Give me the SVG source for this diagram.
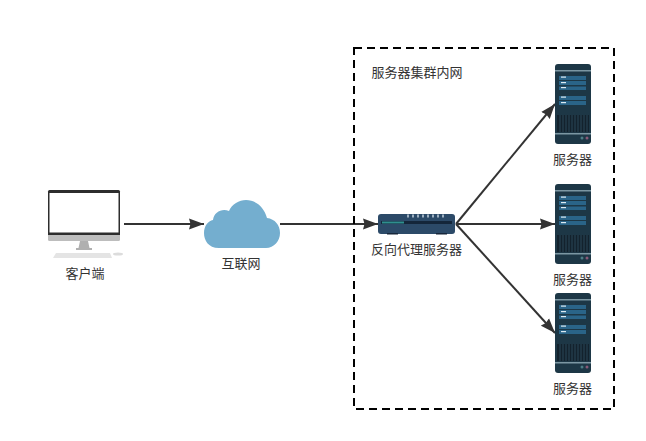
<svg xmlns="http://www.w3.org/2000/svg" xmlns:xlink="http://www.w3.org/1999/xlink" width="646" height="441" viewBox="0 0 646 441">
<style>
text{font-family:"Noto Sans CJK SC","Liberation Sans",sans-serif;font-size:13px;fill:#333;text-anchor:middle}
.c{fill:none;stroke:#333;stroke-width:2}
</style>
<defs>
<marker id="a" markerUnits="userSpaceOnUse" markerWidth="16" markerHeight="12" refX="15" refY="6" orient="auto"><path d="M0 0.500L15 6L0 11.500L1.500 6Z" fill="#333"/></marker>
<g id="srv">
<rect x="0" y="0" width="36" height="80" rx="3" fill="#1d3746"/>
<rect x="0" y="6" width="36" height="1.500" fill="#7c97a3"/>
<rect x="0" y="69" width="36" height="1.500" fill="#7c97a3"/>
<g fill="#2a6488">
<rect x="4" y="12" width="27" height="4"/>
<rect x="4" y="17" width="27" height="4"/>
<rect x="4" y="22.500" width="27" height="3.500"/>
<rect x="4" y="32" width="27" height="4"/>
<rect x="4" y="37" width="27" height="4"/>
</g>
<g fill="#dceaf2"><rect x="6" y="12.500" width="5" height="1.200"/><rect x="6" y="18" width="5" height="1.200"/><rect x="6" y="23" width="5" height="1.200"/><rect x="6" y="32.500" width="5" height="1.200"/><rect x="6" y="38" width="5" height="1.200"/></g>
<rect x="2" y="51" width="32" height="17" fill="#13222d"/>
<path d="M5 51v17M8 51v17M11 51v17M14 51v17M17 51v17M20 51v17M23 51v17M26 51v17M29 51v17M32 51v17" stroke="#2a4658" stroke-width="1"/>
<circle cx="27" cy="74" r="1.500" fill="#4d7d86"/><circle cx="32" cy="74" r="1.500" fill="#8a5a78"/>
</g>
</defs>
<g id="connectors">
<path class="c" marker-end="url(#a)" d="M124 224H204"/>
<path class="c" marker-end="url(#a)" d="M280 224H378"/>
<path class="c" marker-end="url(#a)" d="M456 224L555 104"/>
<path class="c" marker-end="url(#a)" d="M456 224H555"/>
<path class="c" marker-end="url(#a)" d="M456 224L555 333"/>
</g>
<g id="cluster">
<rect x="354" y="48" width="260" height="361" fill="none" stroke="#000" stroke-width="2" stroke-dasharray="8 5"/>
<text x="417" y="77">服务器集群内网</text>
</g>
<g id="client">
<rect x="48" y="190" width="72" height="47" rx="1.500" fill="#2d2d2d"/>
<rect x="49.500" y="193" width="69" height="39.500" fill="#fff"/>
<path d="M48 235H120V239.500Q120 241 118.500 241H49.500Q48 241 48 239.500Z" fill="#bdbdbd"/>
<path d="M80 241H88L89.500 248H92V250H76V248H78.500Z" fill="#b0b0b0"/>
<path d="M56 253H110L112 258H53Z" fill="#e4e4e4"/>
<ellipse cx="118" cy="254" rx="5" ry="1.500" fill="#dcdcdc"/>
<text x="85" y="278">客户端</text>
</g>
<g id="internet">
<path d="M219 248C208 248 204 240 204 233C204 226 208 221 213 220C214 212 222 208 229 211C232 204 239 200 246 200C256 200 264 207 267 218C275 219 280 225 280 233C280 241 274 248 266 248Z" fill="#74aecf"/>
<text x="241" y="268">互联网</text>
</g>
<g id="proxy">
<rect x="378" y="214" width="77" height="20" rx="3" fill="#2c4a68"/>
<rect x="387" y="233" width="11" height="1.500" fill="#16263a"/><rect x="436" y="233" width="11" height="1.500" fill="#16263a"/>
<rect x="381" y="221" width="71" height="3" fill="#14263a"/>
<rect x="382" y="221.500" width="22" height="2" fill="#2f8f8f"/>
<path d="M408 214.500v3M413 214.500v3M418 214.500v3M423 214.500v3M428 214.500v3M433 214.500v3M438 214.500v3M443 214.500v3" stroke="#c3d2de" stroke-width="1.500"/>
<text x="416.500" y="254">反向代理服务器</text>
</g>
<g id="server1"><use href="#srv" x="555" y="64"/><text x="572.500" y="164">服务器</text></g>
<g id="server2"><use href="#srv" x="555" y="184"/><text x="572.500" y="284">服务器</text></g>
<g id="server3"><use href="#srv" x="555" y="293"/><text x="572.500" y="393">服务器</text></g>
</svg>
